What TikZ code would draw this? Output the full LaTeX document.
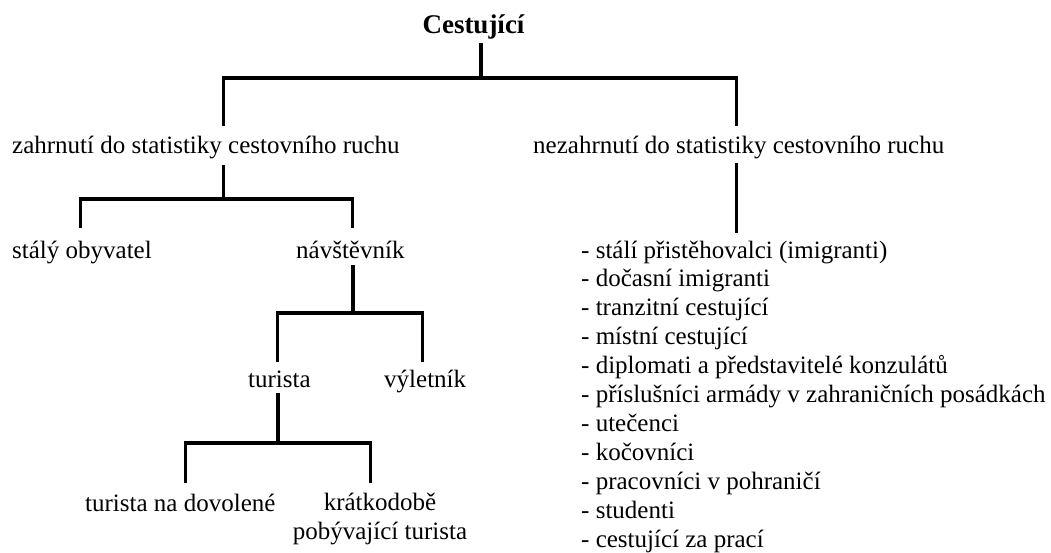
\documentclass[tikz,border=0pt]{standalone}
\usepackage{fontspec}
\setmainfont{Liberation Serif}
\begin{document}
\begin{tikzpicture}[x=1pt,y=-1pt,
  lbl/.style={font=\fontsize{25}{28.9}\selectfont, inner sep=0pt, anchor=base west},
  conn/.style={line width=3.5pt, line cap=butt, line join=miter}]
\useasboundingbox[fill=white] (0,0) rectangle (1051,552);
% nodes (multi-line nodes are placed by the baseline of their last line)
\node[inner sep=0pt, anchor=base, font=\fontsize{27}{30}\selectfont\bfseries] (root) at (473.5,33) {Cestující};
\node[lbl] (zahr) at (12,153) {zahrnutí do statistiky cestovního ruchu};
\node[lbl] (nez) at (533,153) {nezahrnutí do statistiky cestovního ruchu};
\node[lbl] (staly) at (12,258) {stálý obyvatel};
\node[lbl] (navst) at (296,258) {návštěvník};
\node[lbl] (tur) at (248,387) {turista};
\node[lbl] (vyl) at (384,387) {výletník};
\node[lbl] (dov) at (85,511) {turista na dovolené};
\node[lbl, anchor=base, align=center] (kr) at (380,539) {krátkodobě\\pobývající turista};
\node[lbl, align=left] (list) at (581,547) {- stálí přistěhovalci (imigranti)\\
- dočasní imigranti\\
- tranzitní cestující\\
- místní cestující\\
- diplomati a představitelé konzulátů\\
- příslušníci armády v zahraničních posádkách\\
- utečenci\\
- kočovníci\\
- pracovníci v pohraničí\\
- studenti\\
- cestující za prací};
% connection points
\coordinate (root-out) at (481,43);
\coordinate (j0) at (481,78);
\coordinate (zahr-in) at (223.5,126);
\coordinate (nez-in) at (736.5,126);
\coordinate (zahr-out) at (223.5,165);
\coordinate (j1) at (223.5,199);
\coordinate (staly-in) at (80.5,228);
\coordinate (navst-in) at (352.5,228);
\coordinate (navst-out) at (353,265);
\coordinate (j2) at (353,313);
\coordinate (tur-in) at (277.5,362);
\coordinate (vyl-in) at (422.5,362);
\coordinate (tur-out) at (278,393);
\coordinate (j3) at (278,443);
\coordinate (dov-in) at (185.5,483);
\coordinate (kr-in) at (370.5,483);
\coordinate (nez-out) at (736.5,163);
\coordinate (list-in) at (736.5,233);
% connectors
\draw[conn] (root-out) -- (j0);
\draw[conn] (zahr-in) |- (j0) -| (nez-in);
\draw[conn] (zahr-out) -- (j1);
\draw[conn] (staly-in) |- (j1) -| (navst-in);
\draw[conn] (navst-out) -- (j2);
\draw[conn] (tur-in) |- (j2) -| (vyl-in);
\draw[conn] (tur-out) -- (j3);
\draw[conn] (dov-in) |- (j3) -| (kr-in);
\draw[conn] (nez-out) -- (list-in);
\end{tikzpicture}
\end{document}
